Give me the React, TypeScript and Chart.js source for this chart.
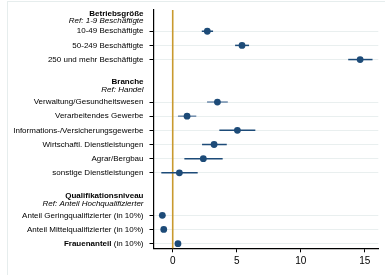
import React, { useEffect, useRef } from "react";
import { Chart, registerables } from "chart.js";

Chart.register(...registerables);

const categories = [
  "10-49 Beschäftigte",
  "50-249 Beschäftigte",
  "250 und mehr Beschäftigte",
  "Verwaltung/Gesundheitswesen",
  "Verarbeitendes Gewerbe",
  "Informations-/Versicherungsgewerbe",
  "Wirtschaftl. Dienstleistungen",
  "Agrar/Bergbau",
  "sonstige Dienstleistungen",
  "Anteil Geringqualifizierter (in 10%)",
  "Anteil Mittelqualifizierter (in 10%)",
  "Frauenanteil (in 10%)",
];
const rowIndex = [1, 2, 3, 6, 7, 8, 9, 10, 11, 14, 15, 16];
const estimates = [2.7, 5.41, 14.63, 3.49, 1.12, 5.05, 3.23, 2.39, 0.52, -0.81, -0.7, 0.41];
const ciLow = [2.27, 4.87, 13.7, 2.68, 0.41, 3.64, 2.29, 0.91, -0.89, -0.87, -0.76, 0.36];
const ciHigh = [3.15, 5.96, 15.6, 4.3, 1.84, 6.45, 4.22, 3.9, 1.95, -0.75, -0.64, 0.46];
const groupTitles = ["Betriebsgröße", "Branche", "Qualifikationsniveau"];
const groupRefs = ["Ref: 1-9 Beschäftigte", "Ref: Handel", "Ref: Anteil Hochqualifizierter"];
const groupRows = [0, 4.85, 12.9];
const boldLabels = ["Frauenanteil"];
const xTicks = [0, 5, 10, 15];
const referenceValue = 0;

const FONT = "'Liberation Sans', Arial, sans-serif";
const NAVY = "#1d4b78";
const LIGHT_CI = new Set([3, 4]);

const labelPlugin = {
  id: "coefLabels",
  beforeDraw(chart: any) {
    const ctx = chart.ctx;
    ctx.save();
    ctx.strokeStyle = "#e6eded";
    ctx.lineWidth = 1;
    ctx.strokeRect(7.5, 1.5, 420, 320);
    ctx.restore();
  },
  beforeDatasetsDraw(chart: any) {
    const ctx = chart.ctx;
    const xs = chart.scales.x;
    const ys = chart.scales.y;
    const area = chart.chartArea;
    ctx.save();
    const x0 = xs.getPixelForValue(referenceValue);
    ctx.strokeStyle = "#c99a2e";
    ctx.lineWidth = 1.6;
    ctx.beginPath();
    ctx.moveTo(x0, area.top);
    ctx.lineTo(x0, area.bottom);
    ctx.stroke();
    ctx.lineWidth = 1.5;
    for (let i = 0; i < categories.length; i++) {
      const y = ys.getPixelForValue(rowIndex[i]);
      ctx.strokeStyle = LIGHT_CI.has(i) ? "#6e8bab" : NAVY;
      ctx.beginPath();
      ctx.moveTo(xs.getPixelForValue(ciLow[i]), y);
      ctx.lineTo(xs.getPixelForValue(ciHigh[i]), y);
      ctx.stroke();
    }
    ctx.restore();
  },
  afterDraw(chart: any) {
    const ctx = chart.ctx;
    const ys = chart.scales.y;
    const right = 143.5;
    ctx.save();
    ctx.fillStyle = "#000";
    ctx.textBaseline = "middle";
    ctx.textAlign = "right";
    const size = 8;
    for (let i = 0; i < categories.length; i++) {
      const y = ys.getPixelForValue(rowIndex[i]);
      const label = categories[i];
      const bold = boldLabels.find((b) => label.startsWith(b));
      if (bold) {
        const rest = label.slice(bold.length);
        ctx.font = `${size}px ${FONT}`;
        ctx.fillText(rest, right, y);
        const w = ctx.measureText(rest).width;
        ctx.font = `bold ${size}px ${FONT}`;
        ctx.fillText(bold, right - w, y);
      } else {
        ctx.font = `${size}px ${FONT}`;
        ctx.fillText(label, right, y);
      }
    }
    for (let g = 0; g < groupTitles.length; g++) {
      const y = ys.getPixelForValue(groupRows[g]);
      ctx.font = `bold ${size}px ${FONT}`;
      ctx.fillText(groupTitles[g], right, y - 3.6);
      ctx.font = `italic ${size}px ${FONT}`;
      ctx.fillText(groupRefs[g], right, y + 3.6);
    }
    ctx.restore();
  },
};

export default function App() {
  const ref = useRef<HTMLCanvasElement | null>(null);
  useEffect(() => {
    if (!ref.current) return;
    const chart = new Chart(ref.current, {
      type: "scatter",
      data: {
        datasets: [
          {
            data: estimates.map((v, i) => ({ x: v, y: rowIndex[i] })),
            backgroundColor: NAVY,
            borderColor: NAVY,
            pointRadius: 3.4,
            pointHoverRadius: 3.4,
            borderWidth: 0,
          },
        ],
      },
      options: {
        animation: false,
        responsive: false,
        devicePixelRatio: 1,
        layout: { padding: { left: 0, top: 10, right: 6.7, bottom: 0 } },
        plugins: { legend: { display: false }, tooltip: { enabled: false } },
        scales: {
          x: {
            type: "linear",
            min: -1.5,
            max: 16.05,
            afterBuildTicks: (s: any) => {
              s.ticks = xTicks.map((v) => ({ value: v }));
            },
            afterFit: (s: any) => {
              s.height = 26.7;
            },
            grid: { drawOnChartArea: false, drawTicks: true, tickLength: 4, tickColor: "#000", tickWidth: 1 },
            border: { display: true, color: "#000", width: 1.2 },
            ticks: { color: "#000", font: { family: FONT, size: 10 }, padding: 3 },
          },
          y: {
            type: "linear",
            reverse: true,
            min: -0.5,
            max: 16.33,
            afterBuildTicks: (s: any) => {
              s.ticks = rowIndex.map((v) => ({ value: v }));
            },
            afterFit: (s: any) => {
              s.width = 153.5;
            },
            grid: { color: "#e9efef", lineWidth: 1, drawTicks: true, tickLength: 4, tickColor: "#000", tickWidth: 1 },
            border: { display: true, color: "#000", width: 1.2 },
            ticks: { display: false },
          },
        },
      },
      plugins: [labelPlugin],
    });
    return () => chart.destroy();
  }, []);
  return (
    <div style={{ position: "absolute", left: 0, top: 0, width: 385, height: 275, background: "#fff" }}>
      <canvas ref={ref} width={385} height={275} />
    </div>
  );
}
